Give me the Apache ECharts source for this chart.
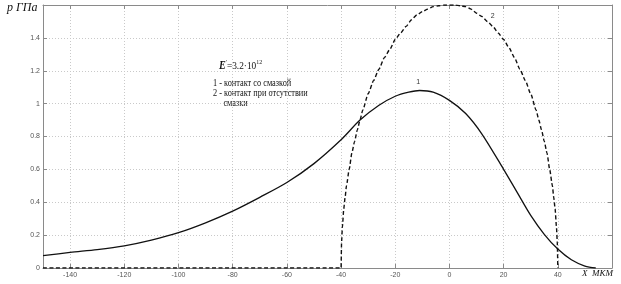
<!DOCTYPE html>
<html><head><meta charset="utf-8">
<script src="https://cdn.jsdelivr.net/npm/echarts@6/dist/echarts.min.js"></script>
<style>html,body{margin:0;padding:0;background:#fff}#c{width:621px;height:284px}</style>
</head><body><div id="c"></div>
<script>
// Curve 1: contact with lubricant
const x1 = [-150,-140,-130,-120,-110,-100,-90,-80,-70,-60,-50,-40,-33,-26,-20,-15,-11,-6,0,6,12,20,25,30,35,40,45,50,54];
const p1 = [0.075,0.095,0.112,0.135,0.17,0.215,0.275,0.346,0.43,0.52,0.635,0.78,0.9,0.99,1.045,1.07,1.08,1.07,1.02,0.94,0.815,0.60,0.46,0.32,0.205,0.115,0.05,0.012,0];
// Curve 2: dry contact
const x2 = [-150,-40,-39.8,-39.5,-39,-38.5,-38,-37,-36,-35,-34,-33,-32,-30,-28,-26,-24,-22,-20,-18,-16,-14,-12,-10,-8,-6,-4,-2,0,2,4,6,8,10,12,14,16,18,20,22,24,26,28,30,32,33,34,35,36,37,38,38.5,39,39.5,39.8,40];
const p2 = [0,0,0.16,0.25,0.36,0.43,0.5,0.6,0.7,0.77,0.84,0.9,0.96,1.06,1.14,1.21,1.28,1.33,1.39,1.43,1.47,1.51,1.54,1.56,1.575,1.59,1.595,1.6,1.6,1.6,1.595,1.59,1.575,1.55,1.53,1.5,1.47,1.43,1.39,1.34,1.28,1.21,1.14,1.06,0.96,0.9,0.84,0.77,0.7,0.6,0.5,0.43,0.36,0.25,0.16,0];
const xTicks = [-140,-120,-100,-80,-60,-40,-20,0,20,40];

const chart = echarts.init(document.getElementById('c'), null, {renderer:'canvas'});
const axisCol = '#8a8a8a';
const gridLine = {show:true, lineStyle:{color:'#c9c9c9', type:[1,2], width:1}};
const tickFont = {fontFamily:'Liberation Sans', fontSize:7, color:'#555'};
function xAx(pos, labels){
  return {type:'value', position:pos, min:-150, max:60,
    axisLine:{show:true, onZero:false, lineStyle:{color:axisCol, width:1}},
    axisTick:{show:true, inside:true, length:4, customValues:xTicks, lineStyle:{color:axisCol}},
    axisLabel:Object.assign({show:labels, customValues:xTicks, margin:4, formatter:v=>String(v)}, tickFont),
    splitLine: labels ? gridLine : {show:false}};
}
function yAx(pos, labels){
  return {type:'value', position:pos, min:0, max:1.6, interval:0.2,
    axisLine:{show:true, onZero:false, lineStyle:{color:axisCol, width:1}},
    axisTick:{show:true, inside:true, length:4, lineStyle:{color:axisCol}},
    axisLabel:Object.assign({show:labels, margin:3, formatter:v=> (Math.abs(v-1.6)<1e-6 ? '' : String(+v.toFixed(1)))}, tickFont),
    splitLine: labels ? gridLine : {show:false}};
}
chart.setOption({
  animation:false,
  grid:{left:43, right:9, top:5, bottom:16, containLabel:false},
  xAxis:[xAx('bottom', true), xAx('top', false)],
  yAxis:[yAx('left', true), yAx('right', false)],
  series:[
    {type:'line', xAxisIndex:0, yAxisIndex:0, data:x1.map((x,i)=>[x,p1[i]]), smooth:0.3, showSymbol:false,
     lineStyle:{color:'#111', width:1.3}, z:3,
     markPoint:{symbol:'circle', symbolSize:0, label:{show:true, formatter:'1', fontSize:7, color:'#333', fontFamily:'Liberation Sans'},
       data:[{coord:[-11.5,1.13]}]}},
    {type:'line', xAxisIndex:0, yAxisIndex:0, data:x2.map((x,i)=>[x,p2[i]]), smooth:0.2, smoothMonotone:'x', showSymbol:false,
     lineStyle:{color:'#111', width:1.4, type:[4,2.5]}, z:3,
     markPoint:{symbol:'circle', symbolSize:0, label:{show:true, formatter:'2', fontSize:7, color:'#333', fontFamily:'Liberation Sans'},
       data:[{coord:[16,1.535]}]}}
  ],
  graphic:[
    {type:'text', left:7, top:2, style:{text:'p ГПа', font:'italic 12px "Liberation Serif"', fill:'#111'}},
    {type:'text', left:582, top:269, style:{text:'X  МКМ', font:'italic 9px "Liberation Serif"', fill:'#111'}},
    {type:'text', x:219, y:59, scaleX:0.85, style:{
      text:'{e|E}{s|\'}{n|=3.2·10}{s|12}',
      rich:{e:{font:'bold italic 12px "Liberation Serif"', fill:'#111', verticalAlign:'bottom'},
            n:{font:'11px "Liberation Serif"', fill:'#111', verticalAlign:'bottom'},
            s:{font:'7px "Liberation Serif"', fill:'#111', verticalAlign:'top', padding:[0,0,6,0]}}}},
    {type:'text', x:213, y:78, scaleX:0.83, style:{text:'1 - контакт со смазкой\n2 - контакт при отсутствии\n     смазки',
      font:'10px "Liberation Serif"', fill:'#111', lineHeight:10}}
  ]
});
</script></body></html>
